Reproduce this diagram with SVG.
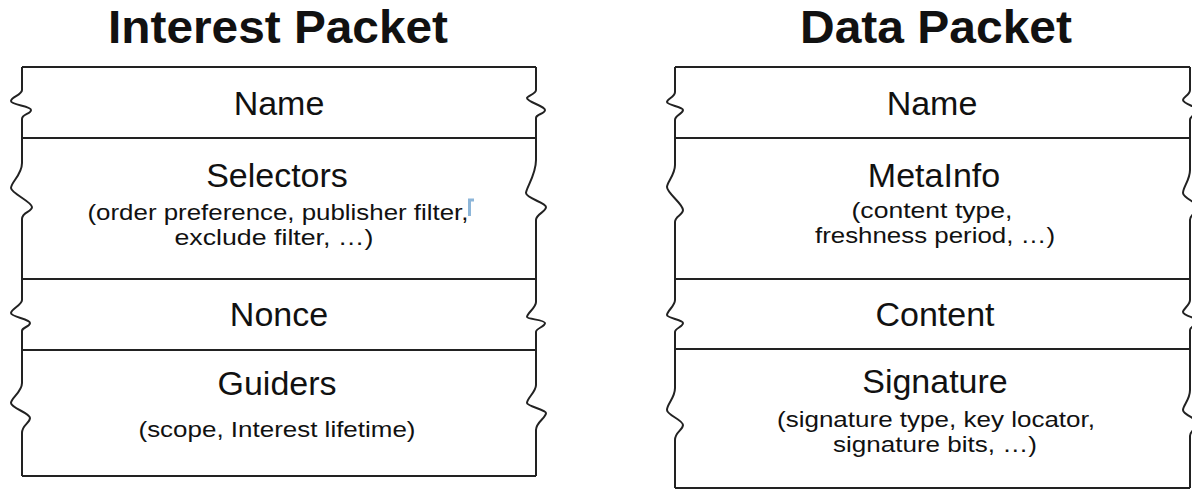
<svg xmlns="http://www.w3.org/2000/svg" width="1192" height="492" viewBox="0 0 1192 492">
<style>
.title{font-family:"Liberation Sans",Arial,sans-serif;font-weight:bold;font-size:46px;fill:#111;text-anchor:middle}
.lbl{font-family:"Liberation Sans",Arial,sans-serif;font-size:34px;fill:#111;text-anchor:middle}
.sub{font-family:"Liberation Sans",Arial,sans-serif;font-size:22.5px;fill:#111;text-anchor:middle}
.edge{fill:none;stroke:#222;stroke-width:2;stroke-linejoin:round}
.sep{stroke:#222;stroke-width:2}
</style>
<rect width="1192" height="492" fill="#fff"/>
<g id="connectors"/>
<g id="interest-title"><text class="title" x="278" y="43" textLength="340" lengthAdjust="spacingAndGlyphs">Interest Packet</text></g>
<g id="data-title"><text class="title" x="936" y="43" textLength="272" lengthAdjust="spacingAndGlyphs">Data Packet</text></g>
<g id="interest-packet">
  <path class="edge" d="M22,67 V90 C22,95 11,97 11,101 C11,105 31,106 31,110 C31,114 22,114 22,119 V163 C22,175 11,182 11,188 C11,193 32,202 32,207 C32,212 22,212 22,219 V300 C22,305 11,309 11,313 C11,317 30,319 30,323 C30,327 22,327 22,331 V383 C22,392 11,398 11,403 C11,408 30,413 30,418 C30,423 22,425 22,433 V476"/>
  <path class="edge" d="M536,67 V90 C536,94 527,96 527,98 C527,102 545,106 545,110 C545,114 536,114 536,118 V160 C536,175 526,188 526,193 C526,198 546,203 546,207 C546,212 536,214 536,220 V302 C536,308 527,313 527,317 C527,319 545,320 545,323 C545,327 536,328 536,332 V385 C536,392 527,398 527,403 C527,406 546,410 546,413 C546,418 536,422 536,430 V476"/>
  <line class="sep" x1="22" y1="67" x2="536" y2="67"/>
  <line class="sep" x1="22" y1="138" x2="536" y2="138"/>
  <line class="sep" x1="22" y1="279" x2="536" y2="279"/>
  <line class="sep" x1="22" y1="350" x2="536" y2="350"/>
  <line class="sep" x1="22" y1="476" x2="536" y2="476"/>
  <g id="interest-name"><text class="lbl" x="279" y="115">Name</text></g>
  <g id="interest-selectors">
    <text class="lbl" x="277" y="187">Selectors</text>
    <text class="sub" x="278" y="220" textLength="381" lengthAdjust="spacingAndGlyphs">(order preference, publisher filter,</text>
    <text class="sub" x="274" y="245" textLength="199" lengthAdjust="spacingAndGlyphs">exclude filter, …)</text>
    <path d="M474,200 H469.5 V216" fill="none" stroke="#8db6d9" stroke-width="3"/>
  </g>
  <g id="interest-nonce"><text class="lbl" x="279" y="326">Nonce</text></g>
  <g id="interest-guiders">
    <text class="lbl" x="277" y="395">Guiders</text>
    <text class="sub" x="277" y="437" textLength="277" lengthAdjust="spacingAndGlyphs">(scope, Interest lifetime)</text>
  </g>
</g>
<g id="data-packet">
  <path class="edge" d="M675,67 V92 C675,97 667,99 667,102 C667,105 683,107 683,110 C683,114 675,115 675,120 V165 C675,175 667,182 667,187 C667,193 683,204 683,210 C683,215 675,216 675,222 V300 C675,306 667,311 667,315 C667,318 683,320 683,323 C683,327 675,328 675,332 V388 C675,398 667,404 667,410 C667,415 683,420 683,425 C683,430 675,432 675,440 V488"/>
  <path class="edge" d="M1190,67 V90 C1190,95 1183,97 1183,100 C1183,104 1198,107 1198,110 C1198,114 1190,115 1190,120 V170 C1190,180 1183,187 1183,193 C1183,198 1198,203 1198,207 C1198,212 1190,214 1190,220 V300 C1190,305 1183,309 1183,312 C1183,316 1198,318 1198,321 C1198,325 1190,326 1190,330 V390 C1190,400 1183,405 1183,410 C1183,415 1198,419 1198,423 C1198,428 1190,430 1190,436 V488"/>
  <line class="sep" x1="675" y1="67" x2="1190" y2="67"/>
  <line class="sep" x1="675" y1="138" x2="1190" y2="138"/>
  <line class="sep" x1="675" y1="279" x2="1190" y2="279"/>
  <line class="sep" x1="675" y1="349" x2="1190" y2="349"/>
  <line class="sep" x1="675" y1="488" x2="1190" y2="488"/>
  <g id="data-name"><text class="lbl" x="932" y="115">Name</text></g>
  <g id="data-metainfo">
    <text class="lbl" x="934" y="187">MetaInfo</text>
    <text class="sub" x="932" y="218" textLength="161" lengthAdjust="spacingAndGlyphs">(content type,</text>
    <text class="sub" x="935" y="243" textLength="240" lengthAdjust="spacingAndGlyphs">freshness period, …)</text>
  </g>
  <g id="data-content"><text class="lbl" x="935" y="326">Content</text></g>
  <g id="data-signature">
    <text class="lbl" x="935" y="393">Signature</text>
    <text class="sub" x="936" y="427" textLength="318" lengthAdjust="spacingAndGlyphs">(signature type, key locator,</text>
    <text class="sub" x="935" y="452" textLength="204" lengthAdjust="spacingAndGlyphs">signature bits, …)</text>
  </g>
</g>
</svg>
